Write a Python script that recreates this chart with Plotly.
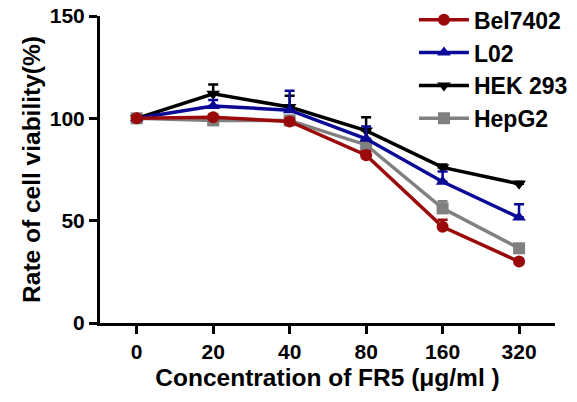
import plotly.graph_objects as go

categories = ["0", "20", "40", "80", "160", "320"]
series_names = ["Bel7402", "L02", "HEK 293", "HepG2"]
bel7402 = [100, 100.5, 98.5, 82, 47, 30]
bel7402_err = [0.5, 1.5, 1.5, 2, 3.5, 1]
l02 = [100, 106, 104, 90, 69, 51.5]
l02_err = [0.5, 3, 9.5, 6, 5, 6.5]
hek293 = [100, 112, 105.5, 94, 76, 68]
hek293_err = [0.5, 4.5, 5.5, 6.5, 1.5, 1]
hepg2 = [100, 99, 99, 87, 56, 36.5]
hepg2_err = [0.5, 1.5, 1.5, 2, 3.5, 1]
y_ticks = [0, 50, 100, 150]

colors = ["#9b0a0a", "#0a0a96", "#000000", "#808080"]
symbols = ["circle", "triangle-up", "triangle-down", "square"]
values = [bel7402, l02, hek293, hepg2]
errors = [bel7402_err, l02_err, hek293_err, hepg2_err]

font_family = "Arial, Liberation Sans, sans-serif"

fig = go.Figure()
order = [3, 2, 1, 0]  # draw HepG2 first, Bel7402 on top
traces = {}
for i in range(4):
    traces[i] = go.Scatter(
        x=list(range(len(categories))),
        y=values[i],
        name=series_names[i],
        mode="lines+markers",
        line=dict(color=colors[i], width=3.5),
        marker=dict(symbol=symbols[i], size=12, color=colors[i]),
        error_y=dict(type="data", array=errors[i], arrayminus=[0] * 6,
                     symmetric=False, color=colors[i], thickness=2.5, width=5),
        legendgroup=series_names[i],
        legendrank=i + 1,
    )
for i in order:
    fig.add_trace(traces[i])

fig.update_layout(
    width=577, height=402,
    margin=dict(l=100, r=22, t=16, b=79, autoexpand=False),
    paper_bgcolor="white", plot_bgcolor="white",
    font=dict(family=font_family, color="black"),
    showlegend=True,
    legend=dict(
        x=0.69, y=1.058, xanchor="left", yanchor="top",
        font=dict(size=23, family=font_family, color="black", weight="bold"),
        tracegroupgap=6, itemwidth=50, bgcolor="rgba(0,0,0,0)",
        traceorder="normal",
    ),
    xaxis=dict(
        range=[-0.48, 5.47], tickvals=list(range(6)), ticktext=categories,
        showline=True, linecolor="black", linewidth=3, ticks="outside",
        ticklen=8, tickwidth=3, tickcolor="black", showgrid=False, zeroline=False,
        tickfont=dict(size=21, weight="bold"),
        title=dict(text="Concentration of FR5 (μg/ml )", font=dict(size=24.5, weight="bold"), standoff=7),
    ),
    yaxis=dict(
        range=[0, 150], tickvals=y_ticks,
        showline=True, linecolor="black", linewidth=3, ticks="outside",
        ticklen=8, tickwidth=3, tickcolor="black", showgrid=False, zeroline=False,
        tickfont=dict(size=21, weight="bold"),
        title=dict(text="Rate of cell viability(%)", font=dict(size=24.5, weight="bold"), standoff=3),
    ),
)

fig.write_html("out.html", config={"displayModeBar": False},
               post_script="document.body.style.margin='0';document.body.style.overflow='hidden';")
